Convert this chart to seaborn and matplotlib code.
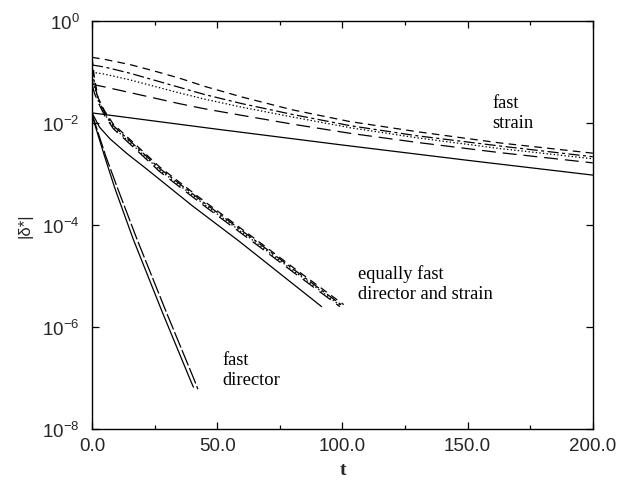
import numpy as np
import pandas as pd
import matplotlib
matplotlib.use("Agg")
import matplotlib.pyplot as plt
import seaborn as sns
from matplotlib.ticker import FixedLocator, FixedFormatter, MultipleLocator, NullLocator

# ---------------------------------------------------------------------------
# Relaxation of |delta*| (values stored as log10 exponents)
# ---------------------------------------------------------------------------

# fast strain: four perturbations (dashed styles) and the reference (solid)
fs_t = [0, 5, 15, 25, 35, 45, 60, 80, 103, 130, 163, 200]
fs_a = [-0.71, -0.75, -0.85, -0.98, -1.12, -1.28, -1.49, -1.74, -1.97, -2.17, -2.39, -2.59]
fs_b = [-0.86, -0.90, -1.02, -1.16, -1.30, -1.44, -1.62, -1.83, -2.05, -2.25, -2.45, -2.66]
fs_c = [-1.00, -1.04, -1.15, -1.28, -1.41, -1.53, -1.69, -1.88, -2.09, -2.29, -2.50, -2.70]
fs_d = [-1.24, -1.29, -1.40, -1.51, -1.62, -1.72, -1.85, -2.02, -2.20, -2.38, -2.58, -2.78]
fs_solid_t = [0, 50, 100, 150, 200]
fs_solid = [-1.80, -2.12, -2.43, -2.73, -3.02]

# equally fast director and strain
eq_t_a = [0, 1, 2.5, 5, 8.5, 18, 27, 45, 64, 80, 100.5]
eq_a = [-0.71, -1.13, -1.51, -1.76, -2.02, -2.45, -2.86, -3.54, -4.23, -4.82, -5.56]
eq_t_b = [0, 1, 2.5, 5, 8.5, 18, 27, 45, 64, 80, 100.0]
eq_b = [-0.86, -1.24, -1.54, -1.79, -2.05, -2.48, -2.89, -3.57, -4.26, -4.85, -5.58]
eq_t_c = [0, 1, 2.5, 5, 8.5, 18, 27, 45, 64, 80, 99.5]
eq_c = [-1.00, -1.30, -1.57, -1.82, -2.08, -2.51, -2.92, -3.60, -4.29, -4.88, -5.59]
eq_t_d = [0, 1, 2.5, 5, 8.5, 18, 27, 45, 64, 80, 99.0]
eq_d = [-1.24, -1.42, -1.60, -1.85, -2.11, -2.54, -2.95, -3.63, -4.32, -4.91, -5.60]
eq_solid_t = [0, 3, 7.2, 14, 21.8, 40, 59.1, 75, 91.7]
eq_solid = [-1.80, -2.08, -2.31, -2.60, -2.90, -3.62, -4.33, -4.95, -5.60]

# fast director
fd_solid_t = [0, 5, 9.2, 16.4, 28, 39.1, 40.5]
fd_solid = [-1.85, -2.65, -3.29, -4.27, -5.70, -7.02, -7.18]
fd_dash_t = [0, 5.5, 10.3, 17.9, 29.6, 40.7, 42.3]
fd_dash = [-1.82, -2.65, -3.29, -4.27, -5.70, -7.02, -7.22]

y_tick_exp = [0, -2, -4, -6, -8]
x_ticks = [0, 50, 100, 150, 200]
x_tick_labels = ["0.0", "50.0", "100.0", "150.0", "200.0"]

# ---------------------------------------------------------------------------
sns.set_style("ticks")
plt.rcParams.update({
    "font.family": ["Liberation Sans", "DejaVu Sans"],
    "mathtext.fontset": "custom",
    "mathtext.rm": "Liberation Sans",
    "mathtext.it": "Liberation Sans:italic",
    "mathtext.bf": "Liberation Sans:bold",
    "lines.scale_dashes": False,
    "axes.edgecolor": "black",
    "axes.linewidth": 1.0,
})

SHORT = (0, (5.5, 3.8))
DASHDOT = (0, (8.0, 2.5, 2.2, 2.5))
DOTTED = (0, (1.0, 1.6))
LONG = (0, (10.0, 5.0))
LONG_TIGHT = (0, (12.0, 2.0))
SOLID = "-"

fig, ax = plt.subplots(figsize=(6.26, 4.81), dpi=100)
fig.subplots_adjust(left=0.147, right=0.947, bottom=0.106, top=0.954)

curves = [
    (fs_t, fs_a, SHORT), (fs_t, fs_b, DASHDOT), (fs_t, fs_c, DOTTED), (fs_t, fs_d, LONG),
    (fs_solid_t, fs_solid, SOLID),
    (eq_t_a, eq_a, SHORT), (eq_t_b, eq_b, DASHDOT), (eq_t_c, eq_c, DOTTED), (eq_t_d, eq_d, LONG),
    (eq_solid_t, eq_solid, SOLID),
    (fd_solid_t, fd_solid, SOLID), (fd_dash_t, fd_dash, LONG_TIGHT),
]

for t, e, ls in curves:
    df = pd.DataFrame({"t": t, "delta": 10.0 ** np.asarray(e)})
    sns.lineplot(data=df, x="t", y="delta", ax=ax, color="black", lw=0.9,
                 linestyle=ls, estimator=None, sort=False, legend=False)

ax.set_yscale("log")
ax.set_xlim(0, 200)
ax.set_ylim(1e-8, 1)

ax.xaxis.set_major_locator(FixedLocator(x_ticks))
ax.xaxis.set_major_formatter(FixedFormatter(x_tick_labels))
ax.xaxis.set_minor_locator(MultipleLocator(25))
ax.yaxis.set_major_locator(FixedLocator([10.0 ** k for k in y_tick_exp]))
ax.yaxis.set_major_formatter(FixedFormatter(
    [r"$\mathregular{10^{%d}}$" % k for k in y_tick_exp]))
ax.yaxis.set_minor_locator(NullLocator())

ax.tick_params(axis="both", which="both", direction="in", top=True, right=True,
               color="black", width=0.9)
ax.tick_params(axis="both", which="major", length=5, labelsize=13.5)
ax.tick_params(axis="x", which="minor", length=3.2)
ax.tick_params(axis="x", which="major", pad=6)
ax.tick_params(axis="y", which="major", pad=9)

ax.set_xlabel("t", family=["Liberation Serif"], fontweight="bold", fontsize=14, labelpad=5)
ax.set_ylabel("|δ*|", fontsize=12, labelpad=7)

serif = dict(family=["Liberation Serif", "DejaVu Serif"], fontsize=13.3, color="black",
             va="baseline", ha="left")
ax.text(160, 10 ** -1.686, "fast", **serif)
ax.text(160, 10 ** -2.078, "strain", **serif)
ax.text(106.2, 10 ** -5.04, "equally fast", **serif)
ax.text(106.2, 10 ** -5.43, "director and strain", **serif)
ax.text(51.9, 10 ** -6.725, "fast", **serif)
ax.text(51.9, 10 ** -7.118, "director", **serif)

sns.despine(ax=ax, top=False, right=False)
fig.savefig("out.png", dpi=100)
